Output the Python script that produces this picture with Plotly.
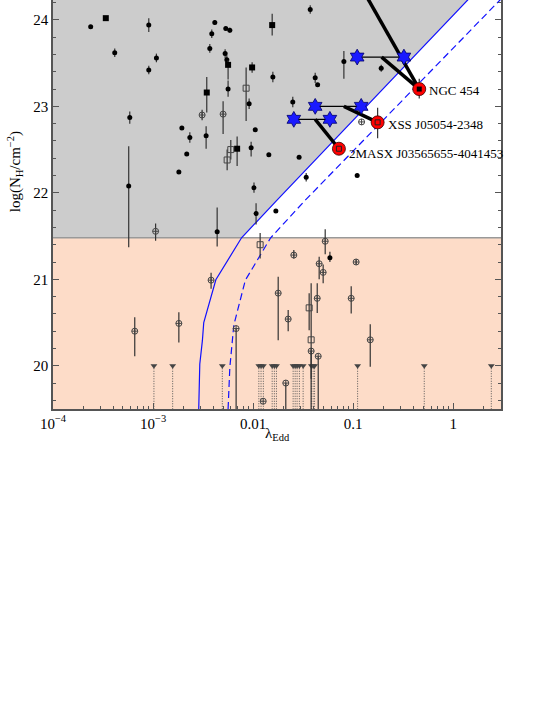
import math
import plotly.graph_objects as go

# ---------------- data ----------------
# filled circles: lambda_Edd, logNH, err+, err-
fc_x = [2.38e-4, 9.06e-4, 4.14e-4, 1.08e-3, 9.06e-4, 5.85e-4, 5.71e-4, 1.94e-3, 2.33e-3, 2.17e-3,
        1.81e-3, 0.0372, 4.14e-3, 3.86e-3, 5.33e-3, 5.85e-3, 3.69e-3, 5.25e-3, 5.46e-3, 5.62e-3,
        0.01574, 9.12e-3, 3.39e-3, 0.0105, 9.55e-3, 0.01435, 0.0288, 0.0339, 0.0102, 0.0249,
        0.0417, 0.0441, 0.0807, 0.1905, 0.1096, 4.37e-3, 0.0107, 0.01687, 0.0585]
fc_y = [23.92, 23.94, 23.62, 23.56, 23.42, 22.87, 22.08, 22.75, 22.64, 22.45,
        22.24, 24.12, 23.97, 23.84, 23.90, 23.88, 23.67, 23.61, 23.54, 23.20,
        23.34, 23.03, 22.66, 22.73, 22.52, 22.44, 22.41, 22.18, 22.06, 23.05,
        23.33, 23.25, 23.52, 23.44, 22.20, 21.55, 21.76, 21.79, 21.25]
fc_eu = [0.02, 0.08, 0.05, 0.05, 0.05, 0.07, 0.46, 0.0, 0.06, 0.0,
         0.0, 0.05, 0.03, 0.05, 0.02, 0.03, 0.05, 0.05, 0.05, 0.10,
         0.06, 0.06, 0.11, 0.0, 0.07, 0.0, 0.0, 0.05, 0.06, 0.06,
         0.06, 0.0, 0.12, 0.04, 0.0, 0.28, 0.12, 0.0, 0.07]
fc_ed = [0.02, 0.08, 0.05, 0.05, 0.05, 0.07, 0.71, 0.0, 0.06, 0.0,
         0.0, 0.05, 0.03, 0.05, 0.02, 0.03, 0.05, 0.05, 0.05, 0.09,
         0.06, 0.06, 0.15, 0.0, 0.10, 0.0, 0.0, 0.05, 0.06, 0.06,
         0.06, 0.0, 0.20, 0.04, 0.0, 0.17, 0.125, 0.0, 0.05]

# filled squares
fs_x = [3.37e-4, 0.0155, 5.62e-3, 3.44e-3, 9.77e-3, 6.92e-3]
fs_y = [24.02, 23.94, 23.48, 23.16, 23.45, 22.51]
fs_eu = [0.02, 0.13, 0.05, 0.18, 0.06, 0.14]
fs_ed = [0.02, 0.12, 0.17, 0.23, 0.06, 0.20]

# open circles
oc_x = [3.09e-3, 5.01e-3, 0.1213, 3.8e-3, 0.0255, 0.0525, 0.0457, 0.0501, 0.0178, 0.0224,
        0.0437, 0.038, 0.0447, 6.76e-3, 0.0126, 0.0212, 0.107, 0.0955, 0.148, 1.06e-3,
        6.56e-4, 1.81e-3]
oc_y = [22.90, 22.91, 22.82, 20.99, 21.28, 21.44, 21.18, 21.08, 20.84, 20.54,
        20.78, 20.17, 20.11, 20.43, 19.59, 19.80, 21.20, 20.78, 20.30, 21.555,
        20.40, 20.49]
oc_eu = [0.06, 0.15, 0.0, 0.085, 0.06, 0.14, 0.08, 0.09, 0.19, 0.105,
         0.175, 0.0, 0.0, 0.0, 0.0, 0.0, 0.03, 0.14, 0.18, 0.09,
         0.16, 0.13]
oc_ed = [0.06, 0.23, 0.0, 0.10, 0.04, 0.15, 0.18, 0.125, 0.545, 0.14,
         0.17, 1.0, 1.0, 1.0, 0.0, 1.0, 0.03, 0.175, 0.31, 0.11,
         0.29, 0.22]

# open squares
os_x = [8.51e-3, 5.98e-3, 5.5e-3, 0.01175, 0.0363, 0.038]
os_y = [23.21, 22.50, 22.38, 21.40, 20.67, 20.30]
os_eu = [0.24, 0.11, 0.12, 0.135, 0.17, 0.655]
os_ed = [0.38, 0.115, 0.12, 0.16, 0.26, 0.45]

# upper limits (log NH < 20)
ul_level = 20.0
ul_x = [1.02e-3, 1.57e-3, 4.92e-3, 0.0114, 0.0120, 0.01265, 0.0155, 0.0163, 0.0171, 0.0251,
        0.0263, 0.0275, 0.0290, 0.0316, 0.0382, 0.0398, 0.0411, 0.1107, 0.513, 2.40]

# highlighted sources
src_names = ["NGC 454", "XSS J05054-2348", "2MASX J03565655-4041453"]
src_x = [0.457, 0.1754, 0.0720]
src_y = [23.20, 22.815, 22.51]
src_eu = [0.12, 0.17, 0.06]
src_ed = [0.11, 0.185, 0.06]
src_label_dy = [-1, -2, -5]

# earlier-state estimates (blue stars), pairs per source
star_lo_x = [0.1096, 0.0417, 0.0255]
star_hi_x = [0.3213, 0.1202, 0.0585]
star_y = [23.57, 23.00, 22.85]
track_start_x = [0.1923, 0.0807, 0.0417]
track_extra_x = [0.105]   # NGC 454, second track from above the frame
track_extra_y = [24.5]

# effective Eddington limit curves
edd_solid_x = [2.86e-3, 2.93e-3, 3.11e-3, 3.21e-3, 4.24e-3, 7.66e-3, 0.01714, 2.0]
edd_solid_y = [19.5, 20.02, 20.29, 20.50, 20.995, 21.48, 21.91, 24.42]
edd_dash_x = [5.62e-3, 5.85e-3, 6.41e-3, 8.36e-3, 0.01496, 0.0329, 2.93, 3.98]
edd_dash_y = [19.5, 19.98, 20.47, 20.99, 21.48, 21.91, 24.23, 24.39]

nh_boundary = 21.48

x_range_log = [-4, 0.477]
y_range = [19.5, 24.23]

# ---------------- figure ----------------
FONT = "Liberation Serif"
ERRC = "#333333"
AXC = "#555555"
fig = go.Figure()

# peach region below boundary
fig.add_trace(go.Scatter(x=[1e-4, 10, 10, 1e-4], y=[18.0, 18.0, nh_boundary, nh_boundary],
                         fill="toself", fillcolor="#fddcc8", line=dict(width=0),
                         mode="lines", hoverinfo="skip", showlegend=False))
# gray forbidden region
gx = [1e-4] + [x for x, y in zip(edd_solid_x, edd_solid_y) if y >= nh_boundary] + [edd_solid_x[-1], 1e-4]
gy = [nh_boundary] + [y for y in edd_solid_y if y >= nh_boundary] + [25.0, 25.0]
fig.add_trace(go.Scatter(x=gx, y=gy, fill="toself", fillcolor="#cccccc", line=dict(width=0),
                         mode="lines", hoverinfo="skip", showlegend=False))
# boundary line
fig.add_trace(go.Scatter(x=[1e-4, 10], y=[nh_boundary, nh_boundary], mode="lines",
                         line=dict(color="#999999", width=1.6), showlegend=False))
# Eddington curves
fig.add_trace(go.Scatter(x=edd_solid_x, y=edd_solid_y, mode="lines",
                         line=dict(color="#1010ff", width=1.2), showlegend=False))
fig.add_trace(go.Scatter(x=edd_dash_x, y=edd_dash_y, mode="lines",
                         line=dict(color="#1010ff", width=1.2, dash="7px,4px"), showlegend=False))

# upper limits dotted lines
ulx, uly = [], []
for xv in ul_x:
    ulx += [xv, xv, None]
    uly += [ul_level, y_range[0], None]
fig.add_trace(go.Scatter(x=ulx, y=uly, mode="lines",
                         line=dict(color="#555555", width=1, dash="1px,1.5px"), showlegend=False))
fig.add_trace(go.Scatter(x=ul_x, y=[ul_level] * len(ul_x), mode="markers",
                         marker=dict(symbol="triangle-down", size=6, color="#444444"),
                         showlegend=False))


def err(eu, ed):
    return dict(type="data", symmetric=False, array=eu, arrayminus=ed,
                width=0, thickness=1.2, color=ERRC)


fig.add_trace(go.Scatter(x=oc_x, y=oc_y, mode="markers", error_y=err(oc_eu, oc_ed),
                         marker=dict(symbol="circle-cross-open", size=6, color="#444444",
                                     line=dict(width=1)), showlegend=False))
fig.add_trace(go.Scatter(x=os_x, y=os_y, mode="markers", error_y=err(os_eu, os_ed),
                         marker=dict(symbol="square-open", size=6, color="#444444",
                                     line=dict(width=1)), showlegend=False))
fig.add_trace(go.Scatter(x=fc_x, y=fc_y, mode="markers", error_y=err(fc_eu, fc_ed),
                         marker=dict(symbol="circle", size=5, color="black"), showlegend=False))
fig.add_trace(go.Scatter(x=fs_x, y=fs_y, mode="markers", error_y=err(fs_eu, fs_ed),
                         marker=dict(symbol="square", size=6, color="black"), showlegend=False))

# tracks: thin lines between stars, thick lines to current state
for i in range(len(src_x)):
    fig.add_trace(go.Scatter(x=[star_lo_x[i], star_hi_x[i]], y=[star_y[i], star_y[i]],
                             mode="lines", line=dict(color="black", width=1.3), showlegend=False))
    fig.add_trace(go.Scatter(x=[track_start_x[i], src_x[i]], y=[star_y[i], src_y[i]],
                             mode="lines", line=dict(color="black", width=3.5), showlegend=False))
for xs, ys in zip(track_extra_x, track_extra_y):
    fig.add_trace(go.Scatter(x=[xs, src_x[0]], y=[ys, src_y[0]], mode="lines",
                             line=dict(color="black", width=3.5), showlegend=False))

fig.add_trace(go.Scatter(x=star_lo_x + star_hi_x, y=star_y + star_y, mode="markers",
                         marker=dict(symbol="hexagram", size=12, color="#1a1aff",
                                     line=dict(color="#000066", width=0.8)), showlegend=False))

fig.add_trace(go.Scatter(x=src_x, y=src_y, mode="markers", error_y=err(src_eu, src_ed),
                         marker=dict(symbol="circle", size=13, color="#ff0000",
                                     line=dict(color="#330000", width=0.8)), showlegend=False))
fig.add_trace(go.Scatter(x=src_x[:1], y=src_y[:1], mode="markers",
                         marker=dict(symbol="square", size=5, color="black"), showlegend=False))
fig.add_trace(go.Scatter(x=src_x[1:], y=src_y[1:], mode="markers",
                         marker=dict(symbol="square-open", size=5, color="#222222",
                                     line=dict(width=1)), showlegend=False))

# annotations on a log axis take log10 positions
for name, xv, yv, dy in zip(src_names, src_x, src_y, src_label_dy):
    fig.add_annotation(x=math.log10(xv), y=yv, xref="x", yref="y", text=name, showarrow=False,
                       xanchor="left", yanchor="middle", xshift=8, yshift=dy,
                       font=dict(family=FONT, size=13, color="black"))

axis_common = dict(showline=True, linecolor=AXC, linewidth=1.5, showgrid=False,
                   zeroline=False, ticks="inside", tickcolor=AXC, ticklen=6,
                   tickfont=dict(family=FONT, size=15, color="black"))

fig.update_xaxes(type="log", range=x_range_log,
                 tickvals=[1e-4, 1e-3, 0.01, 0.1, 1],
                 ticktext=["10<sup>\u22124</sup>", "10<sup>\u22123</sup>", "0.01", "0.1", "1"],
                 **axis_common)
fig.update_yaxes(range=y_range, tickvals=[20, 21, 22, 23, 24], mirror="ticks",
                 minor=dict(ticks="inside", ticklen=3, tickcolor=AXC, dtick=0.2,
                            showgrid=False),
                 **axis_common)

# minor log ticks via an overlaid x axis
minor_vals = [k * 10.0 ** d for d in range(-4, 1) for k in range(2, 10)] + [2.0, 3.0]
fig.add_trace(go.Scatter(x=[1e-3], y=[22], xaxis="x2", mode="markers",
                         marker=dict(size=1, opacity=0), hoverinfo="skip", showlegend=False))
fig.update_layout(xaxis2=dict(type="log", range=x_range_log, overlaying="x", anchor="y",
                              side="bottom", tickvals=minor_vals, ticks="inside", ticklen=3,
                              tickcolor=AXC, showticklabels=False, showline=False,
                              showgrid=False, zeroline=False))

fig.add_annotation(xref="paper", yref="paper", x=-0.086, y=0.58, textangle=-90,
                   text="log(N<sub>H</sub>/cm<sup>\u22122</sup>)", showarrow=False,
                   xanchor="center", yanchor="middle",
                   font=dict(family=FONT, size=15, color="black"))
fig.add_annotation(xref="paper", yref="paper", x=0.5, y=-0.06, text="\u03bb<sub>Edd</sub>",
                   showarrow=False, xanchor="center", yanchor="middle",
                   font=dict(family=FONT, size=15, color="black"))

fig.update_layout(width=545, height=705, margin=dict(l=53, r=44, t=0, b=296),
                  plot_bgcolor="white", paper_bgcolor="white", showlegend=False)

fig.write_html("out.html", config={"displayModeBar": False},
               post_script="document.body.style.margin='0';")
